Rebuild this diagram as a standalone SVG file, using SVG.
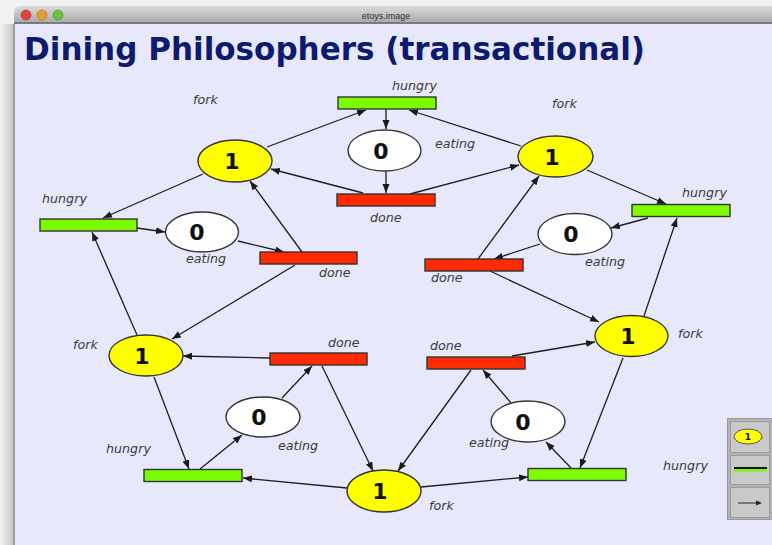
<svg xmlns="http://www.w3.org/2000/svg" width="772" height="545" viewBox="0 0 772 545">
<defs>
<linearGradient id="tb" x1="0" y1="0" x2="0" y2="1"><stop offset="0" stop-color="#dcdcdc"/><stop offset="1" stop-color="#a4a4a4"/></linearGradient>
<linearGradient id="sh" x1="0" y1="0" x2="1" y2="0"><stop offset="0" stop-color="#f4f4f4"/><stop offset="1" stop-color="#c4c4c4"/></linearGradient>
<marker id="ah" markerUnits="userSpaceOnUse" markerWidth="10" markerHeight="8" refX="9" refY="3.5" orient="auto"><path d="M0,0 L9,3.5 L0,7 z" fill="#1a1a1a"/></marker>
<style>
.place{stroke:#333;stroke-width:1.4}
.fork{fill:#ffff00}
.eat{fill:#ffffff}
.hun{fill:#7cfc00;stroke:#333;stroke-width:1.4}
.don{fill:#ff2a00;stroke:#333;stroke-width:1.4}
.num{font-family:"DejaVu Sans",sans-serif;font-weight:bold;font-size:22px;fill:#111;text-anchor:middle}
.lbl{font-family:"DejaVu Sans",sans-serif;font-style:italic;font-size:12.7px;fill:#3c3c3c}
#arcs line{stroke:#1e1e1e;stroke-width:1.3;marker-end:url(#ah)}
.btn{fill:#c9c9c9;stroke:#9a9a9a;stroke-width:1}
</style>
</defs>
<rect width="772" height="545" fill="#f2f2f2"/>
<rect x="0" y="24" width="14" height="521" fill="url(#sh)"/>
<rect x="13" y="24" width="2" height="521" fill="#9c9c9c"/>
<path d="M14,24 V12 Q14,6 20,6 H772 V24 Z" fill="url(#tb)"/>
<rect x="14" y="22" width="758" height="2" fill="#7c7c7c"/>
<circle cx="26" cy="15" r="5" fill="#e0443c" stroke="#a33" stroke-width="0.6"/>
<circle cx="42" cy="15" r="5" fill="#e8a02c" stroke="#a6701c" stroke-width="0.6"/>
<circle cx="58" cy="15" r="5" fill="#6cc040" stroke="#4a8a2a" stroke-width="0.6"/>
<text x="386" y="18.5" font-family="'Liberation Sans',sans-serif" font-size="9" fill="#333" text-anchor="middle">etoys.image</text>
<rect x="15" y="24" width="757" height="521" fill="#e8e8fc"/>
<text x="24" y="60" font-family="'DejaVu Sans',sans-serif" font-weight="bold" font-size="32" fill="#0c1a70" textLength="621" lengthAdjust="spacingAndGlyphs">Dining Philosophers (transactional)</text>

<g id="arcs">
<line x1="267" y1="147" x2="366" y2="110"/>
<line x1="521" y1="146" x2="409" y2="110"/>
<line x1="386" y1="109" x2="386" y2="129"/>
<line x1="386" y1="171" x2="386" y2="193"/>
<line x1="363" y1="193" x2="271" y2="169"/>
<line x1="410" y1="194" x2="519" y2="165"/>

<line x1="203" y1="174" x2="103" y2="218"/>
<line x1="137" y1="335" x2="92" y2="232"/>
<line x1="137" y1="228" x2="165" y2="232"/>
<line x1="238" y1="241" x2="284" y2="252"/>
<line x1="302" y1="252" x2="250" y2="181"/>
<line x1="295" y1="265" x2="172" y2="339"/>

<line x1="587" y1="170" x2="666" y2="204"/>
<line x1="644" y1="316" x2="677" y2="218"/>
<line x1="648" y1="218" x2="611" y2="228"/>
<line x1="540" y1="244" x2="494" y2="259"/>
<line x1="478" y1="259" x2="539" y2="176"/>
<line x1="490" y1="271" x2="599" y2="322"/>

<line x1="154" y1="377" x2="189" y2="469"/>
<line x1="347" y1="488" x2="243" y2="478"/>
<line x1="200" y1="469" x2="242" y2="435"/>
<line x1="282" y1="398" x2="312" y2="366"/>
<line x1="270" y1="358" x2="183" y2="356"/>
<line x1="322" y1="366" x2="373" y2="471"/>

<line x1="421" y1="487" x2="528" y2="477"/>
<line x1="623" y1="358" x2="580" y2="468"/>
<line x1="571" y1="468" x2="546" y2="442"/>
<line x1="511" y1="403" x2="483" y2="370"/>
<line x1="512" y1="356" x2="595" y2="342"/>
<line x1="471" y1="370" x2="398" y2="471"/>
</g>

<g id="fork-top-left"><ellipse class="place fork" cx="235" cy="161" rx="37" ry="21"/><text class="num" x="232" y="169">1</text><text class="lbl" x="193" y="104">fork</text></g>
<g id="fork-top-right"><ellipse class="place fork" cx="555.5" cy="156.5" rx="37.5" ry="20.5"/><text class="num" x="552" y="164.5">1</text><text class="lbl" x="552" y="108">fork</text></g>
<g id="fork-left"><ellipse class="place fork" cx="146" cy="355.5" rx="37" ry="20.5"/><text class="num" x="142" y="363.5">1</text><text class="lbl" x="73" y="349">fork</text></g>
<g id="fork-right"><ellipse class="place fork" cx="631.5" cy="336" rx="36.5" ry="20.5"/><text class="num" x="628" y="344">1</text><text class="lbl" x="678" y="338">fork</text></g>
<g id="fork-bottom"><ellipse class="place fork" cx="384" cy="491" rx="37" ry="21"/><text class="num" x="380" y="499">1</text><text class="lbl" x="429" y="510">fork</text></g>

<g id="eating-top"><ellipse class="place eat" cx="384.5" cy="150.5" rx="36.5" ry="20.5"/><text class="num" x="381" y="158.5">0</text><text class="lbl" x="435" y="148">eating</text></g>
<g id="eating-left"><ellipse class="place eat" cx="202" cy="232" rx="36.5" ry="20"/><text class="num" x="197" y="240">0</text><text class="lbl" x="186" y="263">eating</text></g>
<g id="eating-right"><ellipse class="place eat" cx="575" cy="234" rx="37" ry="20.5"/><text class="num" x="571" y="242">0</text><text class="lbl" x="585" y="266">eating</text></g>
<g id="eating-bottom-left"><ellipse class="place eat" cx="263" cy="417" rx="37" ry="20"/><text class="num" x="259" y="425">0</text><text class="lbl" x="278" y="450">eating</text></g>
<g id="eating-bottom-right"><ellipse class="place eat" cx="528" cy="421.5" rx="37" ry="20.5"/><text class="num" x="523" y="429.5">0</text><text class="lbl" x="469" y="447">eating</text></g>

<g id="hungry-top"><rect class="hun" x="338" y="97" width="98" height="12"/><text class="lbl" x="392" y="90">hungry</text></g>
<g id="hungry-left"><rect class="hun" x="40" y="219" width="97" height="12"/><text class="lbl" x="42" y="203">hungry</text></g>
<g id="hungry-right"><rect class="hun" x="632" y="204.5" width="98" height="12"/><text class="lbl" x="682" y="197">hungry</text></g>
<g id="hungry-bottom-left"><rect class="hun" x="144" y="469.5" width="98" height="12"/><text class="lbl" x="106" y="453">hungry</text></g>
<g id="hungry-bottom-right"><rect class="hun" x="528" y="468.5" width="98" height="12"/><text class="lbl" x="663" y="470">hungry</text></g>

<g id="done-top"><rect class="don" x="337" y="194" width="98" height="12"/><text class="lbl" x="370" y="222">done</text></g>
<g id="done-left"><rect class="don" x="260" y="252" width="97" height="12"/><text class="lbl" x="319" y="277">done</text></g>
<g id="done-right"><rect class="don" x="425" y="259" width="98" height="12"/><text class="lbl" x="431" y="282">done</text></g>
<g id="done-mid-left"><rect class="don" x="270" y="353" width="97" height="12"/><text class="lbl" x="328" y="347">done</text></g>
<g id="done-mid-right"><rect class="don" x="427" y="357" width="98" height="12"/><text class="lbl" x="430" y="350">done</text></g>

<g id="toolbar">
<rect x="727.5" y="418.5" width="46" height="101" fill="#b4b4b4" stroke="#999"/>
<rect class="btn" x="730.5" y="421.5" width="39" height="31"/>
<rect class="btn" x="730.5" y="455.5" width="39" height="29"/>
<rect class="btn" x="730.5" y="487.5" width="39" height="30"/>
<ellipse cx="748" cy="436.5" rx="14" ry="7.5" fill="#ffff00" stroke="#555" stroke-width="1"/>
<text x="748" y="440" font-family="'DejaVu Sans',sans-serif" font-weight="bold" font-size="9" fill="#111" text-anchor="middle">1</text>
<rect x="734" y="467" width="33" height="2" fill="#111"/>
<rect x="734" y="469" width="33" height="2.5" fill="#7cfc00"/>
<line x1="738" y1="503" x2="760" y2="503" stroke="#222" stroke-width="1"/>
<path d="M756,500.5 L762,503 L756,505.5 z" fill="#222"/>
</g>
</svg>
